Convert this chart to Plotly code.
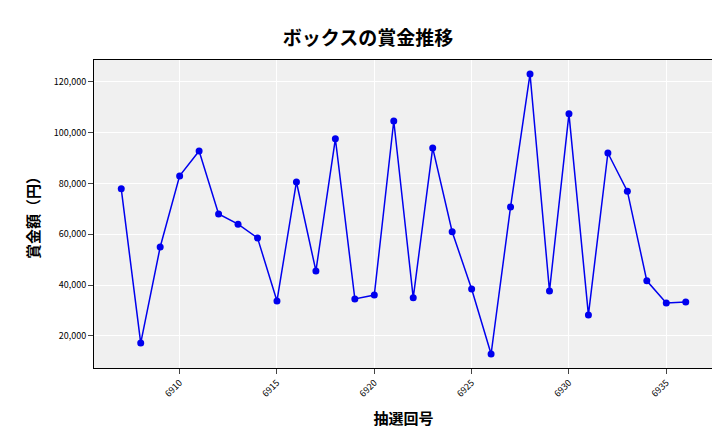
import plotly.graph_objects as go

draws = list(range(6907, 6937))
prizes = [77900, 17200, 55000, 83000, 92800, 68000, 64000, 58600, 33800, 80600,
          45600, 97600, 34600, 36100, 104600, 35000, 94000, 61000, 38500, 12900,
          70800, 123100, 37700, 107400, 28300, 92000, 77000, 41700, 33000, 33400]

font = "Noto Sans CJK JP"

fig = go.Figure()
fig.add_trace(go.Scatter(x=draws, y=prizes, mode="lines+markers",
                         line=dict(color="#0000ee", width=1.5),
                         marker=dict(color="#0000ee", size=7)))
fig.update_layout(
    width=720, height=432,
    margin=dict(l=86, r=15, t=52, b=72, autoexpand=False),
    paper_bgcolor="white", plot_bgcolor="#f0f0f0",
    font=dict(family=font, color="black"),
    showlegend=False,
    title=dict(text="<b>ボックスの賞金推移</b>", x=0.5, xanchor="center", y=0.945,
               font=dict(size=19, family=font)),
)
fig.update_xaxes(title=dict(text="<b>抽選回号</b>", font=dict(size=15), standoff=14),
                 tickvals=[6910, 6915, 6920, 6925, 6930, 6935], tickangle=-45,
                 tickfont=dict(size=9), gridcolor="white", showline=True,
                 linecolor="black", mirror=True, ticks="outside", automargin=False,
                 range=[6905.6, 6937.4], zeroline=False)
fig.update_yaxes(title=dict(text="<b>賞金額（円）</b>", font=dict(size=15), standoff=10),
                 tickformat=",", tickvals=[20000, 40000, 60000, 80000, 100000, 120000],
                 tickfont=dict(size=9), gridcolor="white", showline=True,
                 linecolor="black", mirror=True, ticks="outside", automargin=False,
                 range=[7400, 128600], zeroline=False)
fig.write_html("out.html")
